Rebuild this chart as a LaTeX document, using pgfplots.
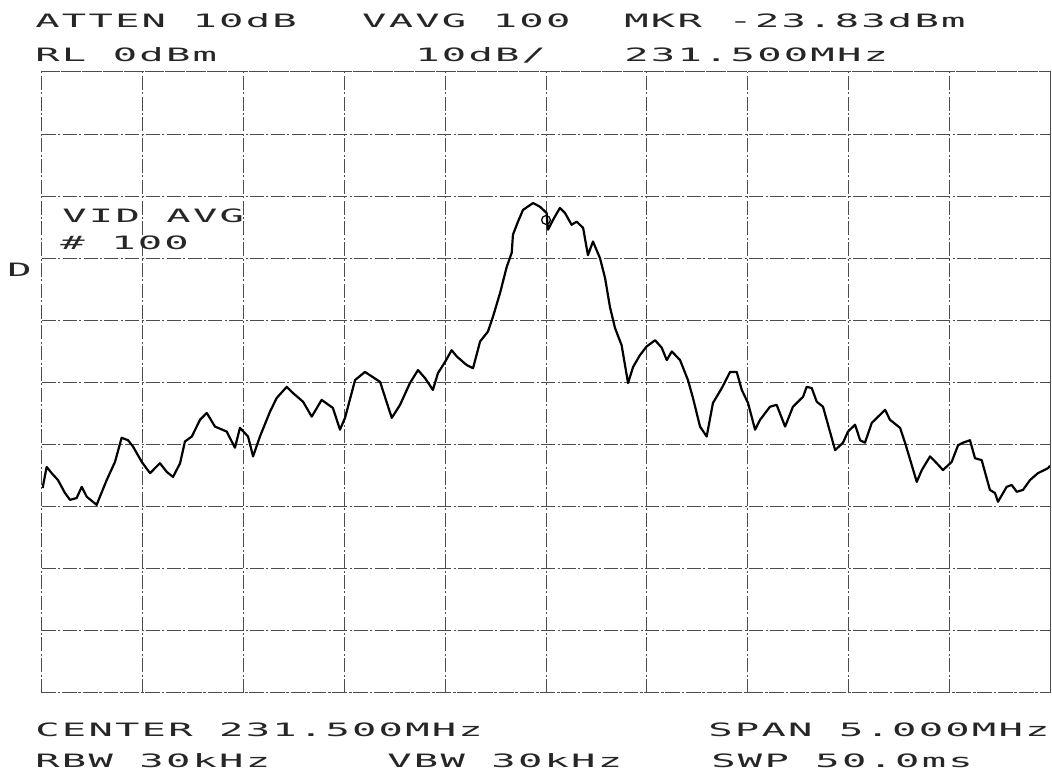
\documentclass[border=0pt]{standalone}
\usepackage{fontspec}
\usepackage{pgfplots}
\pgfplotsset{compat=1.18}
\newfontfamily\hp[FakeStretch=2.2,LetterSpace=12]{DejaVu Sans Mono}

\pgfplotstableread{
f p
229.003 -67.0
229.023 -63.6
229.048 -64.6
229.079 -65.7
229.114 -67.8
229.139 -68.9
229.172 -68.6
229.197 -66.8
229.222 -68.4
229.271 -69.7
229.321 -65.7
229.362 -62.8
229.395 -58.9
229.427 -59.3
229.451 -60.3
229.495 -62.8
229.536 -64.6
229.585 -63.0
229.619 -64.4
229.650 -65.2
229.685 -63.0
229.709 -59.5
229.743 -58.7
229.784 -56.0
229.817 -54.9
229.858 -57.1
229.916 -57.9
229.957 -60.5
229.982 -57.3
230.022 -58.7
230.047 -61.9
230.081 -58.7
230.131 -54.7
230.164 -52.5
230.214 -50.7
230.245 -51.7
230.295 -53.1
230.338 -55.5
230.387 -52.8
230.443 -54.1
230.478 -57.6
230.503 -55.7
230.553 -49.6
230.602 -48.3
230.677 -49.9
230.735 -55.7
230.776 -53.6
230.825 -50.1
230.865 -48.0
230.900 -49.3
230.939 -51.2
230.964 -48.5
230.999 -46.7
231.032 -44.8
231.057 -45.8
231.107 -47.2
231.138 -47.7
231.173 -43.4
231.212 -41.8
231.237 -39.4
231.272 -35.6
231.305 -31.4
231.330 -29.1
231.336 -26.2
231.361 -24.1
231.386 -22.2
231.436 -21.1
231.470 -21.7
231.503 -22.7
231.510 -25.4
231.535 -23.8
231.569 -21.9
231.594 -22.7
231.627 -24.6
231.652 -24.1
231.684 -25.1
231.708 -29.5
231.733 -27.3
231.768 -30.0
231.793 -33.2
231.817 -37.8
231.842 -41.2
231.875 -44.0
231.907 -50.1
231.932 -47.5
231.966 -45.6
231.999 -44.2
232.041 -43.2
232.074 -44.4
232.099 -46.4
232.124 -45.0
232.165 -46.4
232.204 -49.6
232.229 -52.5
232.264 -57.1
232.297 -58.7
232.328 -53.3
232.372 -50.9
232.413 -48.3
232.446 -48.3
232.471 -51.2
232.502 -53.3
232.537 -57.6
232.562 -56.0
232.611 -53.9
232.644 -53.6
232.686 -57.1
232.725 -53.9
232.775 -52.3
232.793 -50.7
232.818 -50.9
232.843 -53.1
232.874 -53.9
232.934 -60.9
232.973 -59.7
232.998 -57.9
233.033 -56.8
233.058 -59.3
233.082 -59.7
233.116 -56.5
233.182 -54.4
233.206 -56.0
233.256 -57.3
233.281 -59.7
233.339 -66.0
233.364 -64.1
233.405 -61.9
233.438 -63.0
233.469 -64.1
233.512 -62.8
233.544 -60.1
233.568 -59.7
233.603 -59.3
233.628 -62.2
233.661 -62.5
233.702 -67.3
233.727 -67.8
233.742 -69.2
233.785 -66.8
233.810 -66.5
233.835 -67.6
233.866 -67.3
233.901 -65.7
233.940 -64.6
233.990 -63.8
234.000 -63.4
}\trace

\begin{document}
\begin{tikzpicture}[x=1pt,y=1pt]
\path[use as bounding box] (0,0) rectangle (526,387);
\begin{axis}[
  at={(21pt,40.5pt)}, anchor=south west,
  width=504pt, height=310.5pt, scale only axis,
  xmin=229, xmax=234, ymin=-100, ymax=0,
  xtick={229,229.5,...,234}, ytick={-100,-90,...,0},
  xticklabels={}, yticklabels={},
  major tick length=0pt,
  grid=major,
  grid style={black!70, line width=0.5pt, dash pattern=on 7pt off 1.2pt on 1pt off 1.2pt},
  axis line style={black!70, line width=0.5pt, dash pattern=on 7pt off 1.2pt on 1pt off 1.2pt}]
\addplot[black, line width=1.1pt, line join=round] table[x=f, y=p] {\trace};
\addplot[black, only marks, mark=o, mark size=2.2pt, mark options={line width=0.6pt}]
  coordinates {(231.5,-23.83)};
\end{axis}
\begin{scope}[every node/.style={anchor=base west, inner sep=0pt, font=\hp\fontsize{9.2}{10}\selectfont, text=black!85}]
\node at (17.5,373) {ATTEN 10dB};
\node at (180.9,373) {VAVG 100};
\node at (312,373) {MKR -23.83dBm};
\node at (17.5,356) {RL 0dBm};
\node at (207.5,356) {10dB/};
\node at (312,356) {231.500MHz};
\node at (31,275.5) {VID AVG};
\node at (30,262) {\# 100};
\node at (3.5,248.5) {D};
\node at (17.5,18.5) {CENTER 231.500MHz};
\node at (354,18.5) {SPAN 5.000MHz};
\node at (17.5,3) {RBW 30kHz};
\node at (193.5,3) {VBW 30kHz};
\node at (355.5,3) {SWP 50.0ms};
\end{scope}
\end{tikzpicture}
\end{document}
